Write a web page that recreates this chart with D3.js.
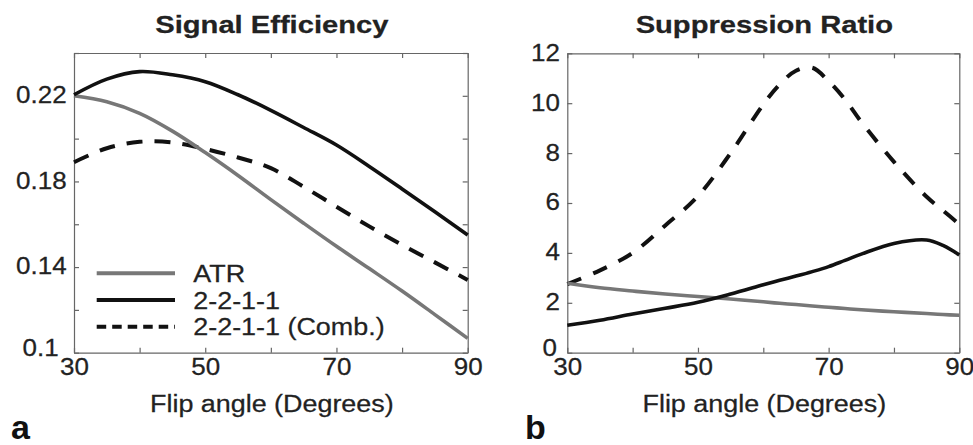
<!DOCTYPE html>
<html>
<head>
<meta charset="utf-8">
<script src="https://cdn.jsdelivr.net/npm/d3@7"></script>
<style>
  body { margin: 0; background: #fff; }
  svg { display: block; font-family: "Liberation Sans", Arial, sans-serif; }
</style>
</head>
<body>
<svg id="chart" width="973" height="445"></svg>
<script>
// ---- data ----
const leftAngles = [30, 35, 40, 45, 50, 55, 60, 65, 70, 75, 80, 85, 90];
const effATR     = [0.2200, 0.2172, 0.2118, 0.2035, 0.1935, 0.1828, 0.1715, 0.1605, 0.1497, 0.1393, 0.1288, 0.1178, 0.1067];
const eff2211    = [0.2205, 0.2278, 0.2313, 0.2298, 0.2266, 0.2205, 0.2132, 0.2052, 0.1970, 0.1870, 0.1765, 0.1658, 0.1550];
const eff2211C   = [0.1890, 0.1955, 0.1985, 0.1982, 0.1952, 0.1912, 0.1862, 0.1775, 0.1682, 0.1590, 0.1503, 0.1422, 0.1340];

const rightAngles = [30, 35, 40, 45, 50, 55, 60, 62.5, 65, 67.5, 70, 72.5, 75, 80, 85, 87.5, 90];
const supATR      = [2.78, 2.60, 2.47, 2.35, 2.25, 2.15, 2.04, 1.98, 1.93, 1.87, 1.82, 1.77, 1.72, 1.64, 1.57, 1.53, 1.50];
const sup2211     = [1.10, 1.30, 1.55, 1.78, 2.02, 2.35, 2.72, 2.90, 3.07, 3.25, 3.45, 3.70, 3.95, 4.38, 4.52, 4.30, 3.92];
const sup2211C    = [2.75, 3.30, 4.00, 5.10, 6.28, 8.00, 9.95, 10.75, 11.30, 11.42, 10.88, 10.15, 9.25, 7.65, 6.25, 5.70, 5.15];

const xTicks = [30, 40, 50, 60, 70, 80, 90];
const xTickLabels = [30, 50, 70, 90];
const effTicks = [0.10, 0.12, 0.14, 0.16, 0.18, 0.20, 0.22, 0.24];
const effTickLabels = ["0.1", "0.14", "0.18", "0.22"];
const supTicks = [0, 2, 4, 6, 8, 10, 12];

const legendLabels = ["ATR", "2-2-1-1", "2-2-1-1 (Comb.)"];

// ---- styling ----
const SX = 1.13;          // the source figure is stretched sideways
const GRAY = "#777";
const INK = "#111";
const TXT = "#222";

const svg = d3.select("#chart");

function label(g, x, y, str, size, weight, anchor, sx) {
  return g.append("text")
    .attr("transform", `translate(${x},${y}) scale(${sx || 1.17},1)`)
    .attr("text-anchor", anchor || "middle")
    .attr("font-size", size)
    .attr("font-weight", weight || "normal")
    .attr("fill", TXT)
    .attr("stroke", TXT)
    .attr("stroke-width", 0.25)
    .text(str);
}

function panel(opts) {
  const x = d3.scaleLinear().domain([30, 90]).range([opts.left, opts.right]);
  const y = d3.scaleLinear().domain(opts.yDomain).range([opts.bottom, opts.top]);
  const g = svg.append("g");

  // box with inward ticks on all four sides
  const bottomAxis = d3.axisBottom(x).tickValues(xTicks).tickSizeInner(-5).tickSizeOuter(0).tickPadding(5.5)
    .tickFormat(d => xTickLabels.includes(d) ? d : "");
  const topAxis = d3.axisTop(x).tickValues(xTicks).tickSizeInner(-5).tickSizeOuter(0).tickFormat("");
  const leftAxis = d3.axisLeft(y).tickValues(opts.yTicks).tickSizeInner(-5).tickSizeOuter(0).tickPadding(6.5)
    .tickFormat(opts.yFormat);
  const rightAxis = d3.axisRight(y).tickValues(opts.yTicks).tickSizeInner(-5).tickSizeOuter(0).tickFormat("");

  const ax = [
    g.append("g").attr("transform", `translate(0,${opts.bottom})`).call(bottomAxis),
    g.append("g").attr("transform", `translate(0,${opts.top})`).call(topAxis),
    g.append("g").attr("transform", `translate(${opts.left},0)`).call(leftAxis),
    g.append("g").attr("transform", `translate(${opts.right},0)`).call(rightAxis)
  ];
  ax.forEach(a => {
    a.select(".domain").attr("stroke", "#666").attr("stroke-width", 1.2);
    a.selectAll(".tick line").attr("stroke", "#666").attr("stroke-width", 1.2);
    a.selectAll(".tick text").attr("font-size", 23).attr("fill", TXT)
      .attr("stroke", TXT).attr("stroke-width", 0.25)
      .attr("font-family", "'Liberation Sans', Arial, sans-serif");
  });
  ax[0].selectAll(".tick text").attr("transform", `scale(${SX},1)`);
  // lowest y label sits a little up and left of its tick, clear of the "30"
  ax[2].selectAll(".tick text")
    .attr("dy", "0.3em")
    .attr("transform", d => d === opts.yDomain[0]
      ? `translate(${-opts.lowShift},-4) scale(${SX},1)` : `scale(${SX},1)`);

  const line = (xs, ys) => d3.line()
    .x((d, i) => x(xs[i]))
    .y(d => y(d))
    .curve(d3.curveCatmullRom.alpha(0.5))(ys);

  opts.series.forEach(s => {
    g.append("path")
      .attr("d", line(opts.xs, s.values))
      .attr("fill", "none")
      .attr("stroke", s.color)
      .attr("stroke-width", s.width)
      .attr("stroke-dasharray", s.dash || null);
  });

  const cx = (opts.left + opts.right) / 2;
  label(g, cx + 1, 33, opts.title, 24.5, "bold", "middle", 1.19);
  label(g, cx + 1, 411.5, "Flip angle (Degrees)", 23);
  g.append("text")
    .attr("x", opts.letterX).attr("y", 439)
    .attr("font-size", 34).attr("font-weight", "bold").attr("fill", "#111")
    .text(opts.letter);
  return g;
}

const leftG = panel({
  left: 74, right: 467.7, top: 53, bottom: 352.7,
  yDomain: [0.10, 0.24], yTicks: effTicks, lowShift: 8,
  yFormat: d => {
    const s = d3.format(".2f")(d).replace(/0$/, "");
    return effTickLabels.includes(s) ? s : "";
  },
  xs: leftAngles,
  series: [
    { values: eff2211C, color: INK, width: 4, dash: "16,12" },
    { values: effATR, color: GRAY, width: 3.6 },
    { values: eff2211, color: INK, width: 3.6 }
  ],
  title: "Signal Efficiency", letter: "a", letterX: 11
});

panel({
  left: 567.3, right: 959.3, top: 53.3, bottom: 352.7,
  yDomain: [0, 12], yTicks: supTicks, lowShift: 3,
  yFormat: d => d,
  xs: rightAngles,
  series: [
    { values: sup2211C, color: INK, width: 4, dash: "15,13" },
    { values: supATR, color: GRAY, width: 3.6 },
    { values: sup2211, color: INK, width: 3.6 }
  ],
  title: "Suppression Ratio", letter: "b", letterX: 525
});

// legend in the left panel
const legendStyle = [
  { color: GRAY, dash: null },
  { color: INK, dash: null },
  { color: INK, dash: "9.5,6" }
];
const legendY = d3.scalePoint().domain(legendLabels).range([273.3, 326.7]);
legendLabels.forEach((name, i) => {
  const yy = legendY(name);
  leftG.append("line")
    .attr("x1", 96.7).attr("x2", 175).attr("y1", yy).attr("y2", yy)
    .attr("stroke", legendStyle[i].color).attr("stroke-width", 4)
    .attr("stroke-dasharray", legendStyle[i].dash);
  label(leftG, 193.3, yy + 8.5, name, 23, "normal", "start");
});
</script>
</body>
</html>
